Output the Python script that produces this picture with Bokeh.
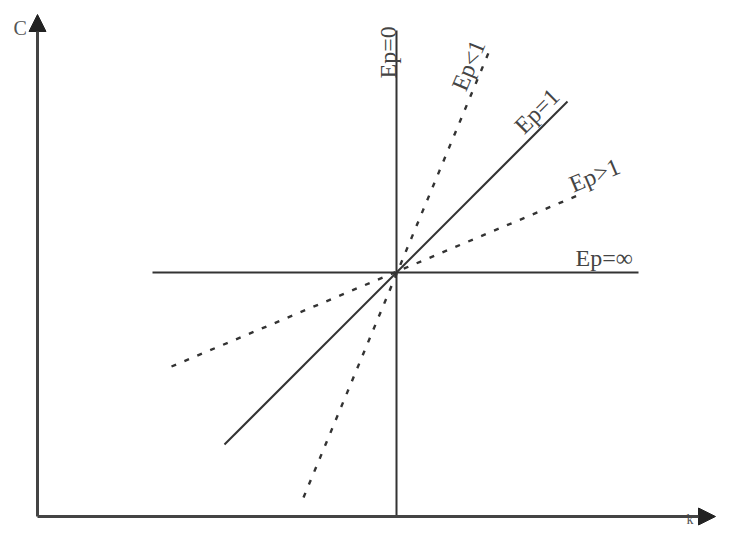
from bokeh.plotting import figure
from bokeh.models import ColumnDataSource, Range1d, Arrow, NormalHead
from bokeh.core.properties import value
from bokeh.embed import file_html
from bokeh.resources import INLINE
import math

# Diagram data (data units: origin at axes corner)
line_names = ["Ep=0", "Ep=∞", "Ep=1", "Ep<1", "Ep>1"]
line_x0 = [359, 115, 187, 266, 134]
line_y0 = [0, 244, 72, 19, 150]
line_x1 = [359, 601, 530, 452, 540]
line_y1 = [486, 244, 415, 466, 321]
line_dashed = [False, False, False, True, True]

label_text = ["Ep=0", "Ep<1", "Ep=1", "Ep>1", "Ep=∞"]
label_x = [350, 421, 481, 533, 538]
label_y = [438, 427, 387, 331, 259]
label_angle_deg = [90, 67.4, 45, 22.8, 0]

axis_x_end = 678
axis_y_end = 502
axis_labels = ["C", "k"]
axis_label_x = [-24, 649]
axis_label_y = [489, -10]
axis_label_size = ["20px", "14px"]
axis_label_baseline = ["alphabetic", "bottom"]

p = figure(width=716, height=527, output_backend="svg", toolbar_location=None,
           x_range=Range1d(-37, 679), y_range=Range1d(-11, 516),
           min_border=0, outline_line_color=None)
p.axis.visible = False
p.grid.visible = False
p.background_fill_color = "white"
p.border_fill_color = "white"

solid = ColumnDataSource(dict(
    x0=[a for a, d in zip(line_x0, line_dashed) if not d],
    y0=[a for a, d in zip(line_y0, line_dashed) if not d],
    x1=[a for a, d in zip(line_x1, line_dashed) if not d],
    y1=[a for a, d in zip(line_y1, line_dashed) if not d]))
dashed = ColumnDataSource(dict(
    x0=[a for a, d in zip(line_x0, line_dashed) if d],
    y0=[a for a, d in zip(line_y0, line_dashed) if d],
    x1=[a for a, d in zip(line_x1, line_dashed) if d],
    y1=[a for a, d in zip(line_y1, line_dashed) if d]))

p.segment("x0", "y0", "x1", "y1", source=solid, line_color="#333333", line_width=2)
p.segment("x0", "y0", "x1", "y1", source=dashed, line_color="#333333", line_width=2.4,
          line_dash="5 9")

# axes with arrowheads
for xe, ye in [(axis_x_end, 0), (0, axis_y_end)]:
    p.add_layout(Arrow(end=NormalHead(size=17, fill_color="#222222", line_color="#222222"),
                       x_start=0, y_start=0, x_end=xe, y_end=ye,
                       line_width=3, line_color="#444444"))

labels = ColumnDataSource(dict(x=label_x, y=label_y, text=label_text,
                               angle=[math.radians(a) for a in label_angle_deg]))
p.text("x", "y", text="text", angle="angle", source=labels,
       text_font=value("Liberation Serif"), text_font_size="24px",
       text_color="#444444", text_align="left", text_baseline="alphabetic")

ax_src = ColumnDataSource(dict(x=axis_label_x, y=axis_label_y, text=axis_labels,
                               size=axis_label_size, base=axis_label_baseline))
p.text("x", "y", text="text", source=ax_src, text_font_size="size",
       text_baseline="base", text_font=value("Liberation Serif"),
       text_color="#555555", text_align="left")

open("out.html", "w").write(file_html(p, INLINE))
